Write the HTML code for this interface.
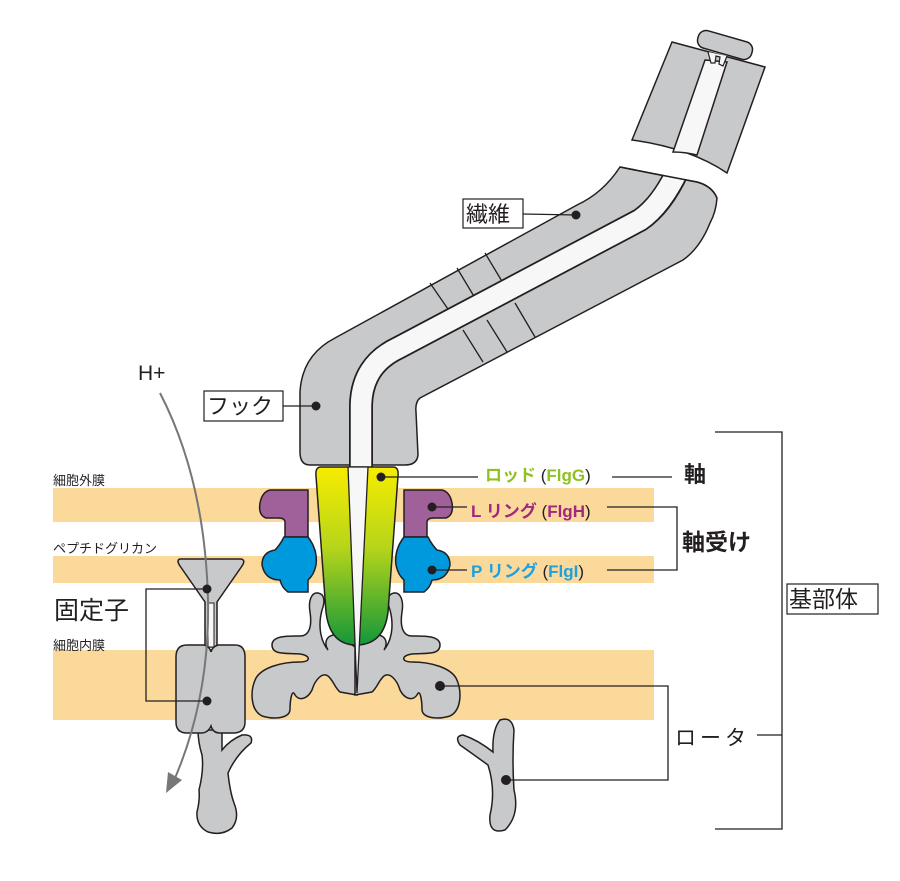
<!DOCTYPE html>
<html><head><meta charset="utf-8"><style>
body{margin:0;background:#fff}
svg{display:block}
text{font-family:"Liberation Sans","Noto Sans CJK JP",sans-serif}
</style></head><body>
<svg width="900" height="881" viewBox="0 0 900 881" xmlns="http://www.w3.org/2000/svg">
<defs>
<linearGradient id="rg" x1="0" y1="0" x2="0" y2="1">
<stop offset="0" stop-color="#f7ec00"/><stop offset="0.45" stop-color="#b7d51a"/><stop offset="1" stop-color="#13973a"/>
</linearGradient>
<clipPath id="fc"><path d="M620,167 Q660,175 697,182 Q712,186 717,198 Q716,212 710,223 Q700,248 683,260 L420,398 Q415,402 416,412 L418,470 L300,470 L300,392 Q302,355 335,338 L577,205 Q603,193 620,167 Z"/></clipPath>
</defs>
<!-- membranes -->
<rect x="53" y="488" width="601" height="34" fill="#fad99a"/>
<rect x="53" y="556" width="601" height="27" fill="#fad99a"/>
<rect x="53" y="650" width="601" height="70" fill="#fad99a"/>

<!-- top filament piece -->
<path d="M672,42 L765,67 L727,173 Q690,148 632,140 Z" fill="#c8c9cb" stroke="#231f20" stroke-width="1.5"/>
<path d="M705,60 L727,62 L697,155 Q685,152 673,152 Z" fill="#f7f7f7" stroke="#231f20" stroke-width="1.5"/>
<rect x="697" y="36" width="56" height="18" rx="8" transform="rotate(16 725 45)" fill="#c8c9cb" stroke="#231f20" stroke-width="1.5"/>
<path d="M708,52 L711,63 L715,63 L716,56 L720,57 L719,64 L723,66 L727,56" fill="#f7f7f7" stroke="#231f20" stroke-width="1.2"/>

<!-- hook + filament -->
<path d="M620,167 Q660,175 697,182 Q712,186 717,198 Q716,212 710,223 Q700,248 683,260 L420,398 Q415,402 416,412 L418,455 Q417,465 405,465 L310,465 Q300,465 300,452 L300,392 Q302,355 335,338 L577,205 Q603,193 620,167 Z" fill="#c8c9cb" stroke="#231f20" stroke-width="1.5"/>
<g stroke="#231f20" stroke-width="1.3">
<line x1="430" y1="283" x2="450" y2="312"/><line x1="457" y1="268" x2="475" y2="298"/><line x1="485" y1="253" x2="503" y2="283"/>
<line x1="463" y1="330" x2="483" y2="362"/><line x1="487" y1="320" x2="507" y2="352"/><line x1="515" y1="303" x2="535" y2="337"/>
</g>
<g clip-path="url(#fc)">
<path d="M361,470 L361,405 Q362,365 398,348 L640,220 Q662,205 678,170" fill="none" stroke="#231f20" stroke-width="24"/>
<path d="M361,472 L361,405 Q362,365 398,348 L640,220 Q662,205 680,166" fill="none" stroke="#f7f7f7" stroke-width="20.5"/>
</g>
<path d="M620,167 Q660,175 697,182 Q712,186 717,198" fill="none" stroke="#231f20" stroke-width="1.5"/>

<!-- stator -->
<path d="M180,559 L241,559 Q246,560 242,566 L217,602 L217,647 L205,647 L205,602 L180,566 Q176,560 180,559 Z" fill="#c8c9cb" stroke="#231f20" stroke-width="1.5"/>
<rect x="208" y="603" width="6" height="44" fill="#f7f7f7" stroke="#231f20" stroke-width="1"/>
<path d="M198,730 L222,730 L222,750 Q230,740 242,735 Q254,734 251,743 Q236,755 228,773 Q230,792 234,803 Q240,818 232,828 Q222,836 208,832 Q196,826 197,812 Q200,800 199,790 Q204,770 202,755 Q198,742 198,730 Z" fill="#c8c9cb" stroke="#231f20" stroke-width="1.5"/>
<path d="M187,645 L204,645 Q210,647 211,652 Q212,647 218,645 L235,645 Q245,645 245,657 L245,722 Q245,733 233,733 L220,733 Q213,733 211,726 Q208,733 201,733 L187,733 Q176,733 176,722 L176,657 Q176,645 187,645 Z" fill="#c8c9cb" stroke="#231f20" stroke-width="1.5"/>

<!-- rotor Y right -->
<path d="M500,720 Q512,716 514,730 Q512,760 514,790 Q520,815 505,830 Q488,835 490,815 Q496,790 488,765 Q470,752 460,745 Q454,736 463,735 Q478,740 493,752 Q492,730 500,720 Z" fill="#c8c9cb" stroke="#231f20" stroke-width="1.5"/>

<!-- rotor center -->
<g id="rl" fill="#c8c9cb" stroke="#231f20" stroke-width="1.5">
<path d="M357,695 L340,692 C335,688 333,680 328,676 C322,672 315,680 312,690 C308,698 300,702 295,695 C292,688 290,700 290,710 C289,718 275,720 262,716 C250,710 250,690 256,678 C262,668 280,662 300,662 C312,662 310,655 300,654 C285,653 272,655 272,645 C272,635 290,636 300,636 C310,636 312,625 310,612 C308,600 312,592 318,593 C325,594 325,602 322,610 C318,625 320,640 328,650 C322,640 330,632 340,636 C348,640 352,646 357,648 Z"/>
</g>
<use href="#rl" transform="translate(712,0) scale(-1,1)"/>

<!-- L ring -->
<path d="M270,490 L308,490 L308,537 L285,537 L285,522 Q285,518 278,518 L266,518 Q258,515 260,503 Q262,492 270,490 Z" fill="#a0609a" stroke="#231f20" stroke-width="1.5"/>
<path d="M442,490 L404,490 L404,537 L427,537 L427,522 Q427,518 434,518 L446,518 Q454,515 452,503 Q450,492 442,490 Z" fill="#a0609a" stroke="#231f20" stroke-width="1.5"/>
<!-- P ring -->
<path d="M284,537 L308,537 Q318,550 316,565 Q314,575 308,580 L308,592 L288,592 Q282,588 280,580 Q265,580 262,565 Q262,552 275,550 Q280,545 284,537 Z" fill="#0099dd" stroke="#231f20" stroke-width="1.5"/>
<path d="M428,537 L404,537 Q394,550 396,565 Q398,575 404,580 L404,592 L424,592 Q430,588 432,580 Q447,580 450,565 Q450,552 437,550 Q432,545 428,537 Z" fill="#0099dd" stroke="#231f20" stroke-width="1.5"/>

<!-- rod -->
<path d="M321,467 L393,467 Q399,467 398,476 L388,612 Q384,645 356,645 Q330,645 326,612 L316,476 Q315,467 321,467 Z" fill="url(#rg)" stroke="#231f20" stroke-width="1.5"/>
<path d="M348,467 L368,467 L357,693 Z" fill="#f7f7f7" stroke="#231f20" stroke-width="1.3"/>

<!-- H+ arrow -->
<path d="M160,393 Q205,480 208,600 Q210,700 172,785" fill="none" stroke="#777" stroke-width="2"/>
<path d="M166,793 L168,772 L182,780 Z" fill="#777"/>
<text x="138" y="380" font-size="21" fill="#231f20">H+</text>

<!-- left labels -->
<g fill="#231f20">
<text x="53" y="485" font-size="13">細胞外膜</text>
<text x="53" y="553" font-size="13">ペプチドグリカン</text>
<text x="54" y="619" font-size="25">固定子</text>
<text x="53" y="650" font-size="13">細胞内膜</text>
</g>
<g stroke="#231f20" stroke-width="1.3" fill="none">
<path d="M207,589 L146,589 L146,701 L207,701"/>
<path d="M523,214 L576,215"/>
<path d="M283,406 L316,406"/>
<path d="M381,477 L478,477"/>
<path d="M612,477 L672,477"/>
<path d="M432,507 L467,507"/>
<path d="M432,570 L467,570"/>
<path d="M607,507 L677,507 L677,570 L607,570"/>
<path d="M440,686 L668,686 L668,780 L506,780"/>
<path d="M757,735 L782,735"/>
<path d="M715,432 L782,432 L782,829 L715,829"/>
</g>
<g fill="#231f20">
<circle cx="207" cy="589" r="4.5"/><circle cx="207" cy="701" r="4.5"/>
<circle cx="576" cy="215" r="4.5"/><circle cx="316" cy="406" r="4.5"/>
<circle cx="381" cy="477" r="4.5"/><circle cx="432" cy="507" r="4.5"/>
<circle cx="432" cy="570" r="4.5"/><circle cx="440" cy="686" r="5"/>
<circle cx="506" cy="780" r="5"/>
</g>
<rect x="463" y="199" width="60" height="29" fill="#fff" stroke="#231f20" stroke-width="1.2"/>
<text x="466" y="222" font-size="22" fill="#231f20">繊維</text>
<rect x="204" y="391" width="79" height="30" fill="#fff" stroke="#231f20" stroke-width="1.2"/>
<text x="207" y="414" font-size="22" fill="#231f20">フック</text>
<rect x="787" y="584" width="91" height="30" fill="#fff" stroke="#231f20" stroke-width="1.2"/>
<text x="789" y="607" font-size="23" fill="#231f20">基部体</text>

<text x="485" y="481" font-size="17" font-weight="bold" fill="#8dc21f">ロッド <tspan font-weight="normal" fill="#231f20">(</tspan>FlgG<tspan font-weight="normal" fill="#231f20">)</tspan></text>
<text x="684" y="482" font-size="22" font-weight="bold" fill="#231f20">軸</text>
<text x="471" y="517" font-size="17" font-weight="bold" fill="#a0287f">L リング <tspan font-weight="normal" fill="#231f20">(</tspan>FlgH<tspan font-weight="normal" fill="#231f20">)</tspan></text>
<text x="471" y="577" font-size="17" font-weight="bold" fill="#1ea0dc">P リング <tspan font-weight="normal" fill="#231f20">(</tspan>FlgI<tspan font-weight="normal" fill="#231f20">)</tspan></text>
<text x="682" y="550" font-size="23" font-weight="bold" fill="#231f20">軸受け</text>
<text x="675" y="745" font-size="21" fill="#231f20" letter-spacing="4">ロータ</text>
</svg>
</body></html>
